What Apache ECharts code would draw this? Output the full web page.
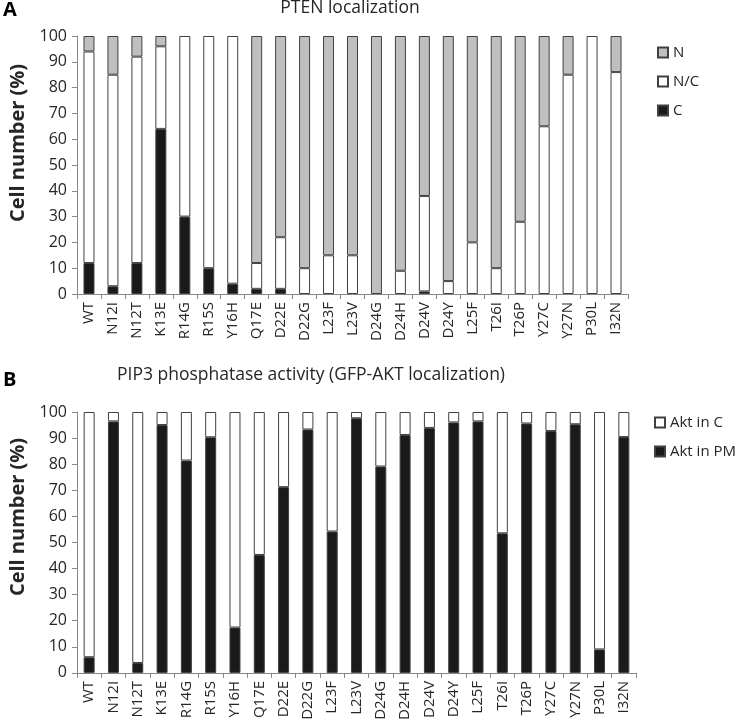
<!DOCTYPE html>
<html><head><meta charset="utf-8">
<script src="https://cdn.jsdelivr.net/npm/echarts@6/dist/echarts.min.js"></script>
<style>html,body{margin:0;padding:0;background:#fff}#c{width:737px;height:723px}</style>
</head><body><div id="c"></div>
<script>
const categories = ['WT','N12I','N12T','K13E','R14G','R15S','Y16H','Q17E','D22E','D22G','L23F','L23V','D24G','D24H','D24V','D24Y','L25F','T26I','T26P','Y27C','Y27N','P30L','I32N'];
// Panel A: PTEN localization (%)
const ptenC  = [12,3,12,64,30,10,4,2,2,0,0,0,0,0,1,0,0,0,0,0,0,0,0];
const ptenNC = [82,82,80,32,70,90,96,10,20,10,15,15,0,9,37,5,20,10,28,65,85,100,86];
const ptenN  = [6,15,8,4,0,0,0,88,78,90,85,85,100,91,62,95,80,90,72,35,15,0,14];
// Panel B: GFP-AKT localization (%)
const aktPM = [6,96.4,3.8,95,81.4,90.3,17.4,45.2,71.2,93.3,54.2,97.6,79.1,91.2,93.9,96,96.4,53.5,95.6,92.7,95.3,9,90.4];
const aktC  = aktPM.map(v => +(100 - v).toFixed(1));
const yTicks = {min: 0, max: 100, interval: 10};

const chart = echarts.init(document.getElementById('c'));
const FONT = 'Open Sans';
const txt = '#262626';
const border = '#404040';
const axisCol = '#868686';
function xAxis(gi){
  return {type:'category', gridIndex:gi, data:categories,
    axisLine:{lineStyle:{color:axisCol}},
    axisTick:{show:true, length:5, lineStyle:{color:axisCol}},
    axisLabel:{rotate:90, fontSize:15, color:txt, fontFamily:FONT, margin:8, interval:0}};
}
function yAxis(gi){
  return {type:'value', gridIndex:gi, min:yTicks.min, max:yTicks.max, interval:yTicks.interval,
    splitLine:{show:false},
    axisLine:{show:true, lineStyle:{color:axisCol}},
    axisTick:{show:true, length:5, lineStyle:{color:axisCol}},
    axisLabel:{fontSize:16, color:txt, fontFamily:FONT, margin:10}};
}
const nz = arr => arr.map(v => v === 0 ? null : v);
function bar(name, data, color, gi, stack){
  return {name, type:'bar', stack, xAxisIndex:gi, yAxisIndex:gi, data:nz(data), barWidth:11,
    itemStyle:{color, borderColor:border, borderWidth:1}, emphasis:{disabled:true}, silent:true};
}
chart.setOption({
  animation:false,
  textStyle:{fontFamily:FONT},
  grid:[
    {left:77, top:36, width:551, height:258},
    {left:77, top:412, width:559, height:262}
  ],
  xAxis:[xAxis(0), xAxis(1)],
  yAxis:[yAxis(0), yAxis(1)],
  legend:[
    {data:['N','N/C','C'], orient:'vertical', left:652, top:40, itemWidth:10, itemHeight:10, itemGap:14, icon:'rect',
     textStyle:{fontSize:15, color:txt, fontFamily:FONT}},
    {data:['Akt in C','Akt in PM'], orient:'vertical', left:649, top:410, itemWidth:10, itemHeight:10, itemGap:14, icon:'rect',
     textStyle:{fontSize:15, color:txt, fontFamily:FONT}}
  ],
  series:[
    bar('C', ptenC, '#1a1a1a', 0, 'a'),
    bar('N/C', ptenNC, '#ffffff', 0, 'a'),
    bar('N', ptenN, '#bfbfbf', 0, 'a'),
    bar('Akt in PM', aktPM, '#1a1a1a', 1, 'b'),
    bar('Akt in C', aktC, '#ffffff', 1, 'b')
  ],
  graphic:[
    {type:'text', left:3, top:0, style:{text:'A', font:'bold 20px '+FONT, fill:'#000'}},
    {type:'text', left:3, top:370, style:{text:'B', font:'bold 20px '+FONT, fill:'#000'}},
    {type:'text', x:350, y:-1, style:{text:'PTEN localization', font:'17.5px '+FONT, fill:txt, align:'center', verticalAlign:'top'}},
    {type:'text', x:311, y:366, style:{text:'PIP3 phosphatase activity (GFP-AKT localization)', font:'17.5px '+FONT, fill:txt, align:'center', verticalAlign:'top'}},
    {type:'text', x:18, y:143, rotation:Math.PI/2, style:{text:'Cell number (%)', font:'bold 20px '+FONT, fill:txt, align:'center', verticalAlign:'middle'}},
    {type:'text', x:18, y:517, rotation:Math.PI/2, style:{text:'Cell number (%)', font:'bold 20px '+FONT, fill:txt, align:'center', verticalAlign:'middle'}}
  ]
});
</script></body></html>
